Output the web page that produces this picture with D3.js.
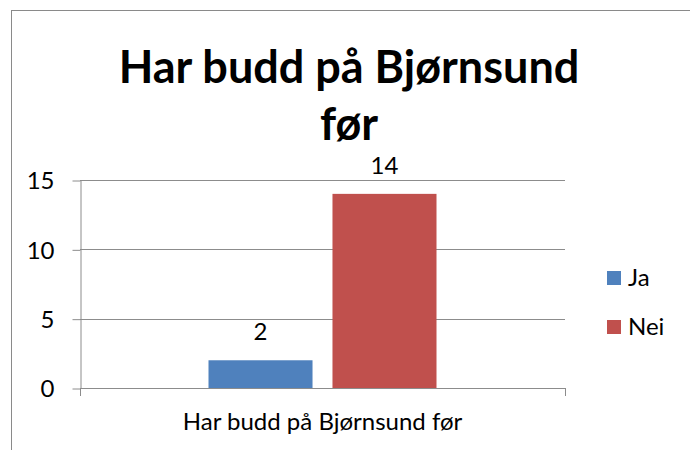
<!DOCTYPE html>
<html>
<head>
<meta charset="utf-8">
<script src="https://cdn.jsdelivr.net/npm/d3@7"></script>
<style>
  html, body { margin: 0; padding: 0; background: #fff; }
  svg text { font-family: Lato, "Liberation Sans", sans-serif; fill: #000; }
</style>
</head>
<body>
<svg id="chart" width="690" height="450"></svg>
<script>
// Survey answers: "Har budd på Bjørnsund før"
const categories = ["Har budd på Bjørnsund før"];
const seriesNames = ["Ja", "Nei"];
const seriesValues = [[2], [14]];   // one value per category, per series
const yTicks = [0, 5, 10, 15];
const titleLines = ["Har budd på Bjørnsund", "før"];
const colors = ["#4F81BD", "#C0504D"];

const svg = d3.select("#chart");
const plot = { left: 80, right: 565, top: 180, bottom: 388 };
const labelSize = "24px";

// chart frame (extends past the right and bottom edges)
svg.append("rect")
  .attr("x", 11.5).attr("y", 10.5)
  .attr("width", 700).attr("height", 460)
  .attr("fill", "none").attr("stroke", "#8a8a8a").attr("stroke-width", 1);

// title
const title = svg.append("text")
  .attr("text-anchor", "middle")
  .style("font-weight", "bold")
  .style("font-size", "45px");
titleLines.forEach((t, i) => {
  title.append("tspan").attr("x", 349).attr("y", 83 + i * 57).text(t);
});

const y = d3.scaleLinear().domain([0, 15]).range([plot.bottom, plot.top]);
const x0 = d3.scaleBand().domain(categories)
  .range([plot.left, plot.right]).paddingInner(0).paddingOuter(0.5636);
const x1 = d3.scaleBand().domain(seriesNames)
  .range([0, x0.bandwidth()]).paddingInner(0.161).paddingOuter(0);

// horizontal gridlines
svg.append("g").selectAll("line").data(yTicks.filter(d => d > 0)).join("line")
  .attr("x1", plot.left).attr("x2", plot.right)
  .attr("y1", d => Math.round(y(d)) + 0.5).attr("y2", d => Math.round(y(d)) + 0.5)
  .attr("stroke", "#8c8c8c").attr("stroke-width", 1);

// y axis
const yAxis = d3.axisLeft(y).tickValues(yTicks).tickSize(8).tickPadding(18).tickSizeOuter(0);
const gy = svg.append("g").attr("transform", `translate(${plot.left + 0.5},0.5)`).call(yAxis);
gy.select(".domain").attr("stroke", "#8c8c8c");
gy.selectAll(".tick line").attr("stroke", "#8c8c8c");
gy.selectAll(".tick text").style("font-size", labelSize).attr("dy", "0.34em");

// x axis baseline with end ticks
const gx = svg.append("g");
gx.append("line")
  .attr("x1", plot.left).attr("x2", plot.right)
  .attr("y1", plot.bottom + 0.5).attr("y2", plot.bottom + 0.5)
  .attr("stroke", "#8c8c8c");
gx.selectAll("line.tk").data([plot.left, plot.right]).join("line").attr("class", "tk")
  .attr("x1", d => d + 0.5).attr("x2", d => d + 0.5)
  .attr("y1", plot.bottom).attr("y2", plot.bottom + 8)
  .attr("stroke", "#8c8c8c");
gx.selectAll("text").data(categories).join("text")
  .attr("x", d => x0(d) + x0.bandwidth() / 2).attr("y", 430)
  .attr("text-anchor", "middle").style("font-size", labelSize)
  .text(d => d);

// bars
const rows = [];
categories.forEach((c, ci) => seriesNames.forEach((s, si) => {
  rows.push({ cat: c, series: s, value: seriesValues[si][ci], color: colors[si] });
}));
const g = svg.append("g");
g.selectAll("rect").data(rows).join("rect")
  .attr("x", d => x0(d.cat) + x1(d.series))
  .attr("width", x1.bandwidth())
  .attr("y", d => y(d.value))
  .attr("height", d => y(0) - y(d.value))
  .attr("fill", d => d.color);

// value labels
g.selectAll("text").data(rows).join("text")
  .attr("x", d => x0(d.cat) + x1(d.series) + x1.bandwidth() / 2)
  .attr("y", d => y(d.value) - 20)
  .attr("text-anchor", "middle").style("font-size", labelSize)
  .text(d => d.value);

// legend
const lg = svg.append("g").attr("transform", "translate(607,271)");
const li = lg.selectAll("g").data(seriesNames).join("g")
  .attr("transform", (d, i) => `translate(0,${i * 49})`);
li.append("rect").attr("width", 14).attr("height", 14)
  .attr("fill", (d, i) => colors[i]);
li.append("text").attr("x", 21).attr("y", 15)
  .style("font-size", labelSize).text(d => d);
</script>
</body>
</html>
